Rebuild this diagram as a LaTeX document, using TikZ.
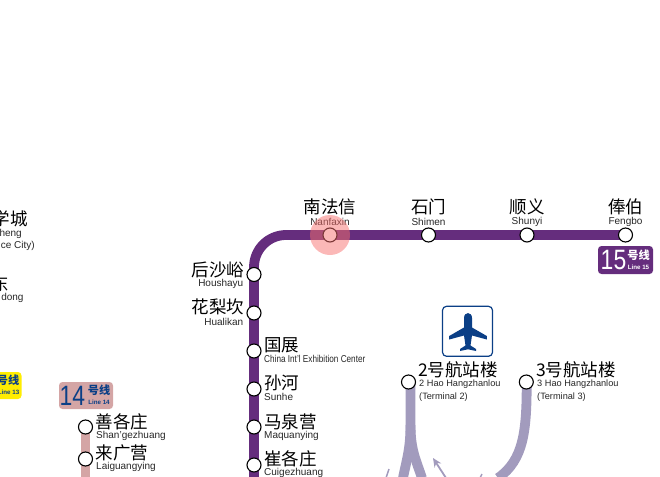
\documentclass[tikz,border=0pt]{standalone}
\usetikzlibrary{arrows.meta}
\usepackage{graphicx}
\usepackage{fontspec}
\setmainfont{Liberation Sans}
\newfontfamily\cjk{Noto Sans CJK SC}
\definecolor{lfifteen}{HTML}{652D7D}
\definecolor{lfourteen}{HTML}{D4A5A5}
\definecolor{lair}{HTML}{A29BBD}
\definecolor{navy}{HTML}{0B3F86}
\definecolor{hilite}{HTML}{F8716F}
\tikzset{
  x=1pt,y=-1pt,
  stn/.style={circle,draw=black,fill=white,line width=1.1pt,minimum size=14pt,inner sep=0pt},
  zh/.style={inner sep=0pt,font=\cjk\fontsize{17.5}{17.5}\selectfont,text=black},
  en/.style={inner sep=0pt,font=\fontsize{10}{11}\selectfont,text=black!85},
  ent/.style={inner sep=0pt,font=\fontsize{9.2}{12.3}\selectfont,text=black!85},
  badge/.style={rounded corners=3.5pt,draw=none},
  bnum/.style={inner sep=0pt,font=\fontsize{28}{28}\selectfont},
  bzh/.style={inner sep=0pt,font=\cjk\bfseries\fontsize{11.2}{11.2}\selectfont},
  ben/.style={inner sep=0pt,font=\bfseries\fontsize{6.2}{6.2}\selectfont},
  rail/.style={line width=9.8pt},
}
\begin{document}
\begin{tikzpicture}
\useasboundingbox (0,0) rectangle (660,476);
% line 15
\coordinate (east) at (626,235);
\coordinate (south15) at (254,478);
\draw[lfifteen,rail,rounded corners=32pt] (east) -- (254,235) -- (south15);
% line 14
\coordinate (south14) at (85.5,478);
\draw[lfourteen,rail] (85.5,427) -- (south14);
% airport line
\draw[lair,rail] (410.5,382) -- (410.5,425) .. controls (410.5,450) and (416,460) .. (422,478);
\draw[lair,rail] (526.7,382) .. controls (526.7,430) and (524,460) .. (498,478);
\draw[lair,rail] (410.5,425) .. controls (410.5,450) and (406,462) .. (403,478);
% small arrows
\coordinate (arrA) at (446,478);
\coordinate (arrB) at (433,458);
\draw[lair,line width=1.8pt,-{Stealth[length=9pt,width=8pt,inset=3pt]}] (arrA) -- (arrB);
\coordinate (arrC) at (386,478);
\coordinate (arrD) at (389,469);
\draw[lair,line width=1.5pt] (arrC) -- (arrD);
\coordinate (arrE) at (480,478);
\coordinate (arrF) at (482,474);
\draw[lair,line width=1.5pt] (arrE) -- (arrF);
% stations
\node[stn] (s1) at (330,235) {};
\node[stn] (s2) at (428.5,235) {};
\node[stn] (s3) at (527,235) {};
\node[stn] (s4) at (625.5,235) {};
\node[stn] (s5) at (254,274.5) {};
\node[stn] (s6) at (254,313) {};
\node[stn] (s7) at (254,351) {};
\node[stn] (s8) at (254,389) {};
\node[stn] (s9) at (254,427) {};
\node[stn] (s10) at (254,465) {};
\node[stn] (t1) at (85.5,427) {};
\node[stn] (t2) at (85.5,459) {};
\node[stn] (a1) at (408.5,382) {};
\node[stn] (a2) at (526.3,382) {};
% labels top
\node[zh] (z1) at (330,206.7) {南法信};
\node[en] (e1) at (330,221.7) {Nanfaxin};
\node[zh] (z2) at (428.5,206.7) {石门};
\node[en] (e2) at (428.5,221.7) {Shimen};
\node[zh] (z3) at (527,206.7) {顺义};
\node[en] (e3) at (527,221.7) {Shunyi};
\node[zh] (z4) at (625.5,206.7) {俸伯};
\node[en] (e4) at (625.5,221.7) {Fengbo};
% left labels
\node[zh,anchor=east] (z5) at (244.5,269.7) {后沙峪};
\node[en,anchor=east] (e5) at (243.5,284) {Houshayu};
\node[zh,anchor=east] (z6) at (244.5,307.3) {花梨坎};
\node[en,anchor=east] (e6) at (243.5,321.6) {Hualikan};
% right labels
\node[zh,anchor=west] (z7) at (264,345.5) {国展};
\node[en,anchor=west] (e7) at (264,359.3) {\scalebox{0.82}[1]{China Int'l Exhibition Center}};
\node[zh,anchor=west] (z8) at (264,383.3) {孙河};
\node[en,anchor=west] (e8) at (264,397.3) {Sunhe};
\node[zh,anchor=west] (z9) at (264,421.5) {马泉营};
\node[en,anchor=west] (e9) at (264,436) {Maquanying};
\node[zh,anchor=west] (z10) at (264,459.3) {崔各庄};
\node[en,anchor=west] (e10) at (264,473.3) {Cuigezhuang};
% line 14 labels
\node[zh,anchor=west] (z11) at (95.5,421.5) {善各庄};
\node[en,anchor=west] (e11) at (96,435.7) {Shan'gezhuang};
\node[zh,anchor=west] (z12) at (95.5,453.3) {来广营};
\node[en,anchor=west] (e12) at (96,467.3) {Laiguangying};
% cut off at left
\node[zh,anchor=east] (z13) at (28,219) {学城};
\node[en,anchor=east] (e13) at (22,234) {heng};
\node[en,anchor=east] (e14) at (35,246) {ce City)};
\node[zh,anchor=east] (z14) at (9.3,284) {东};
\node[en,anchor=east] (e15) at (23.7,298.3) {dong};
% terminals
\node[zh,anchor=west] (z15) at (418,370) {2号航站楼};
\node[ent,anchor=west,align=left] (e16) at (419,390.5) {2 Hao Hangzhanlou\\(Terminal 2)};
\node[zh,anchor=west] (z16) at (536,370) {3号航站楼};
\node[ent,anchor=west,align=left] (e17) at (537,390.5) {3 Hao Hangzhanlou\\(Terminal 3)};
% airport icon
\node[draw=navy,line width=1.2pt,fill=white,rounded corners=4pt,minimum size=50pt,inner sep=0pt] (icon) at (467.5,331.3) {};
\fill[navy] (464,318) .. controls (464,311.5) and (472,311.5) .. (472,318) -- (472,327.5)
 -- (486.8,336) -- (486.8,339.5) -- (472,335.5) -- (470.5,345.5) -- (476,349) -- (476,351) -- (468,349.3) -- (460,351) -- (460,349) -- (465.5,345.5) -- (464,335.5) -- (449.2,339.5) -- (449.2,336) -- (464,327.5) -- cycle;
% badges
\node[badge,fill=lfourteen,minimum width=54pt,minimum height=27pt,inner sep=0pt] (b14) at (86,395.5) {};
\node[bnum,text=navy] (b14n) at (72.5,396) {\scalebox{0.82}[1]{14}};
\node[bzh,text=navy] (b14z) at (99,390.5) {号线};
\node[ben,text=navy] (b14e) at (99,402.5) {Line 14};
\node[badge,fill=lfifteen,minimum width=55pt,minimum height=28pt,inner sep=0pt] (b15) at (625.5,260) {};
\node[bnum,text=white] (b15n) at (613.5,260.5) {\scalebox{0.82}[1]{15}};
\node[bzh,text=white] (b15z) at (638.5,255.3) {号线};
\node[ben,text=white] (b15e) at (638.5,267.2) {Line 15};
\node[badge,fill=yellow!95!orange,minimum width=30pt,minimum height=27pt,inner sep=0pt] (b13) at (6.5,385.5) {};
\node[bzh,text=navy,anchor=east] (b13z) at (19.5,380.5) {号线};
\node[ben,text=navy,anchor=east] (b13e) at (19.5,392.3) {Line 13};
% highlight over everything
\fill[hilite,opacity=0.5] (s1.center) circle (20);
\end{tikzpicture}
\end{document}
